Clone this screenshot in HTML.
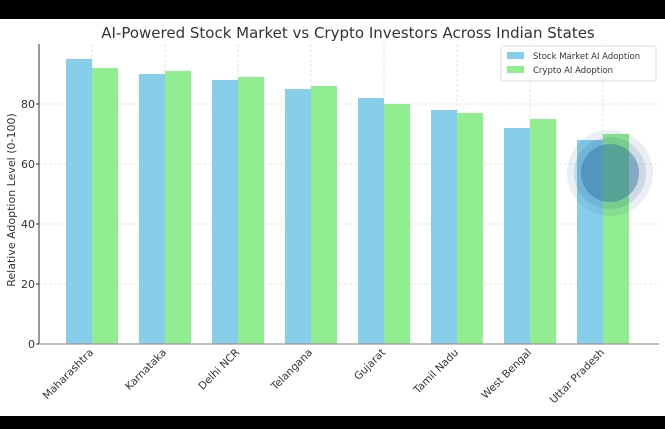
<!DOCTYPE html>
<html><head><style>
body{margin:0;background:#fff;}
svg{display:block;font-family:"DejaVu Sans","Liberation Sans",sans-serif;}
</style></head><body>
<svg width="665" height="429" viewBox="0 0 665 429">
<rect width="665" height="429" fill="#fff"/>
<rect x="0" y="0" width="665" height="19" fill="#000"/>
<rect x="0" y="416" width="665" height="13" fill="#000"/>
<text x="348" y="38" font-size="15" text-anchor="middle" fill="#333">AI-Powered Stock Market vs Crypto Investors Across Indian States</text>
<g stroke="#ddd" stroke-width="0.8" stroke-dasharray="3,2">
<line x1="39" x2="659" y1="284" y2="284"/><line x1="39" x2="659" y1="224" y2="224"/><line x1="39" x2="659" y1="164" y2="164"/><line x1="39" x2="659" y1="104" y2="104"/>
<line x1="92" x2="92" y1="44" y2="344"/><line x1="165" x2="165" y1="44" y2="344"/><line x1="238" x2="238" y1="44" y2="344"/><line x1="311" x2="311" y1="44" y2="344"/><line x1="384" x2="384" y1="44" y2="344"/><line x1="457" x2="457" y1="44" y2="344"/><line x1="530" x2="530" y1="44" y2="344"/><line x1="603" x2="603" y1="44" y2="344"/>
</g>
<g fill="#87ceeb">
<rect x="66" y="59" width="26" height="285"/><rect x="139" y="74" width="26" height="270"/><rect x="212" y="80" width="26" height="264"/><rect x="285" y="89" width="26" height="255"/><rect x="358" y="98" width="26" height="246"/><rect x="431" y="110" width="26" height="234"/><rect x="504" y="128" width="26" height="216"/><rect x="577" y="140" width="26" height="204"/>
</g>
<g fill="#90ee90">
<rect x="92" y="68" width="26" height="276"/><rect x="165" y="71" width="26" height="273"/><rect x="238" y="77" width="26" height="267"/><rect x="311" y="86" width="26" height="258"/><rect x="384" y="104" width="26" height="240"/><rect x="457" y="113" width="26" height="231"/><rect x="530" y="119" width="26" height="225"/><rect x="603" y="134" width="26" height="210"/>
</g>
<circle cx="610" cy="173" r="43" fill="#2f5f8f" opacity="0.1"/>
<circle cx="610" cy="173" r="36" fill="#2f5f8f" opacity="0.15"/>
<circle cx="610" cy="173" r="29" fill="#2f6f9f" opacity="0.45"/>
<line x1="39" x2="39" y1="44" y2="344" stroke="#333" stroke-width="1"/>
<line x1="39" x2="659" y1="344" y2="344" stroke="#999" stroke-width="1.2"/>
<g font-size="11" fill="#333" text-anchor="end">
<text x="35" y="348">0</text><text x="35" y="288">20</text><text x="35" y="228">40</text><text x="35" y="168">60</text><text x="35" y="108">80</text>
</g>
<g stroke="#333"><line x1="36" x2="39" y1="344" y2="344"/><line x1="36" x2="39" y1="284" y2="284"/><line x1="36" x2="39" y1="224" y2="224"/><line x1="36" x2="39" y1="164" y2="164"/><line x1="36" x2="39" y1="104" y2="104"/></g>
<text transform="translate(15,200) rotate(-90)" font-size="11" fill="#333" text-anchor="middle">Relative Adoption Level (0-100)</text>
<g font-size="10.5" fill="#333" text-anchor="end">
<text transform="translate(94,353) rotate(-45)">Maharashtra</text>
<text transform="translate(167,353) rotate(-45)">Karnataka</text>
<text transform="translate(240,353) rotate(-45)">Delhi NCR</text>
<text transform="translate(313,353) rotate(-45)">Telangana</text>
<text transform="translate(386,353) rotate(-45)">Gujarat</text>
<text transform="translate(459,353) rotate(-45)">Tamil Nadu</text>
<text transform="translate(532,353) rotate(-45)">West Bengal</text>
<text transform="translate(605,353) rotate(-45)">Uttar Pradesh</text>
</g>
<rect x="501" y="46" width="155" height="35" fill="#fff" fill-opacity="0.85" stroke="#ddd" rx="2"/>
<rect x="507" y="52" width="17" height="7" fill="#87ceeb"/>
<rect x="507" y="66" width="17" height="7" fill="#90ee90"/>
<g font-size="8.5" fill="#333"><text x="533" y="59">Stock Market AI Adoption</text><text x="533" y="73">Crypto AI Adoption</text></g>
</svg>
</body></html>
